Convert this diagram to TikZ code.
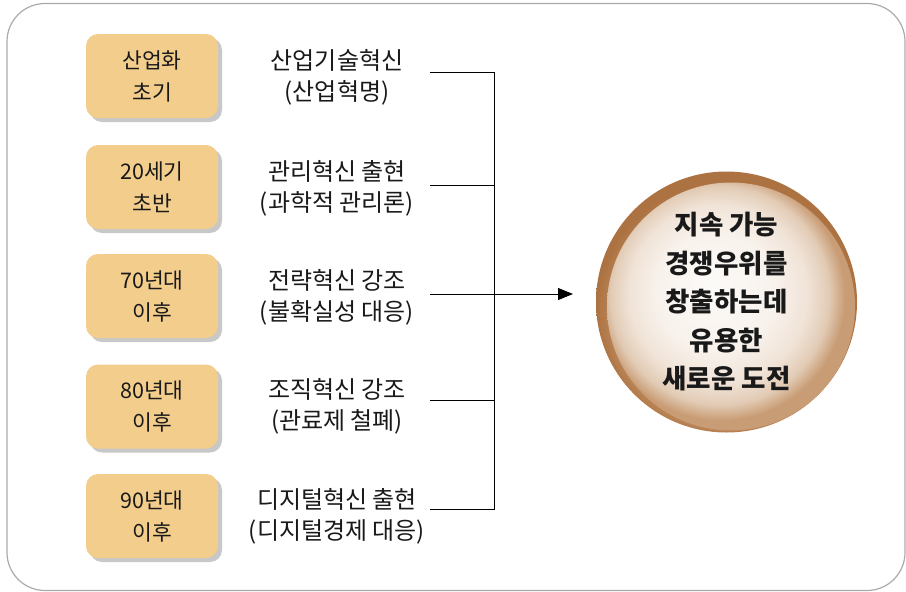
\documentclass[tikz,border=0pt]{standalone}
\usepackage{fontspec}
\setmainfont{Noto Sans CJK KR}
\usetikzlibrary{shadows,arrows.meta}
\definecolor{boxcol}{RGB}{242,205,140}
\definecolor{shadowgray}{RGB}{200,200,200}
\definecolor{framegray}{RGB}{170,170,170}
\definecolor{txt}{RGB}{25,25,25}
\definecolor{oc0}{RGB}{222,182,142}
\definecolor{oc1}{RGB}{196,145,100}
\definecolor{oc2}{RGB}{172,114,66}
\definecolor{ic0}{RGB}{252,250,248}
\definecolor{ic1}{RGB}{248,242,236}
\definecolor{ic2}{RGB}{240,227,215}
\definecolor{ic3}{RGB}{226,203,181}
\definecolor{ic4}{RGB}{200,156,116}
\pgfdeclareradialshading{outersph}{\pgfpoint{0bp}{-4bp}}{%
  color(0bp)=(oc0); color(20bp)=(oc1); color(25bp)=(oc2); color(50bp)=(oc2)}
\pgfdeclareradialshading{innersph}{\pgfpoint{-4bp}{4bp}}{%
  color(0bp)=(ic0); color(12bp)=(ic1); color(18bp)=(ic2);
  color(22bp)=(ic3); color(25bp)=(ic4); color(50bp)=(ic4)}
\tikzset{
  era/.style={fill=boxcol, rounded corners=12pt, minimum width=132pt,
    minimum height=84pt, inner sep=0pt, align=center, text=txt,
    font=\fontsize{21.5}{32}\selectfont,
    drop shadow={shadow xshift=4pt, shadow yshift=-4pt, fill=shadowgray, opacity=1}},
  desc/.style={align=center, text=txt, inner sep=0pt,
    font=\fontsize{24}{31}\selectfont},
  link/.style={draw=black, line width=0.9pt},
  goalnode/.style={circle, minimum size=261pt, inner sep=0pt,
    align=center, text=txt, font=\bfseries\fontsize{26.5}{38.5}\selectfont},
}
\begin{document}
\begin{tikzpicture}[x=1pt,y=-1pt]
\useasboundingbox (0,0) rectangle (906,592);
\draw[framegray, line width=1.2pt, rounded corners=38pt] (7,3.5) rectangle (905,590.5);

\node[era] (b1) at (152,76) {산업화\\초기};
\node[era] (b2) at (152,187) {20세기\\초반};
\node[era] (b3) at (152,296) {70년대\\이후};
\node[era] (b4) at (152,406.5) {80년대\\이후};
\node[era] (b5) at (152,516) {90년대\\이후};

\node[desc] (t1) at (337,77) {산업기술혁신\\(산업혁명)};
\node[desc] (t2) at (337,188) {관리혁신 출현\\(과학적 관리론)};
\node[desc] (t3) at (337,297) {전략혁신 강조\\(불확실성 대응)};
\node[desc] (t4) at (337,406) {조직혁신 강조\\(관료제 철폐)};
\node[desc] (t5) at (337,516) {디지털혁신 출현\\(디지털경제 대응)};

\shade[shading=outersph] (726.5,302) circle[radius=130.5];
\shade[shading=innersph] (731,306.5) circle[radius=124];
\node[goalnode] (goal) at (726.5,302) {지속 가능\\경쟁우위를\\창출하는데\\유용한\\새로운 도전};

\coordinate (s1) at (430,72);
\coordinate (s2) at (430,185);
\coordinate (s3) at (430,294);
\coordinate (s4) at (430,400);
\coordinate (s5) at (430,509);
\coordinate (j1) at (494,72);
\coordinate (j5) at (494,509);
\coordinate (tip) at (573,294);

\draw[link] (s1) -- (j1) -- (j5) -- (s5);
\draw[link] (s2) -- (s2 -| j1);
\draw[link] (s4) -- (s4 -| j1);
\draw[link, -{Triangle[length=15pt,width=12pt]}] (s3) -- (tip);
\end{tikzpicture}
\end{document}
